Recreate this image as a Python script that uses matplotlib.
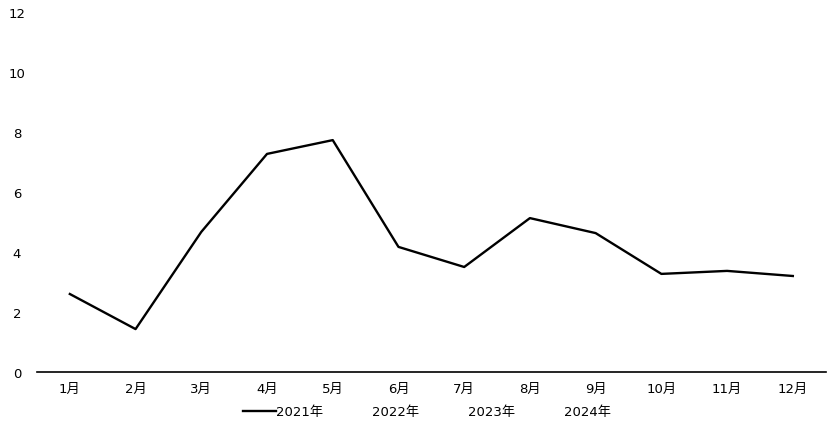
import matplotlib.pyplot as plt
from matplotlib.lines import Line2D

plt.rcParams['font.family'] = ['DejaVu Sans', 'Noto Sans CJK SC']

months = ['1月', '2月', '3月', '4月', '5月', '6月', '7月', '8月', '9月', '10月', '11月', '12月']
values_2021 = [2.6, 1.43, 4.67, 7.27, 7.73, 4.17, 3.5, 5.13, 4.63, 3.27, 3.37, 3.2]
years = ['2021年', '2022年', '2023年', '2024年']

fig = plt.figure(figsize=(8.29, 4.27), dpi=100)
ax = fig.add_axes([0.0446, 0.1265, 0.9514, 0.843])

x = range(len(months))
ax.plot(x, values_2021, color='black', lw=1.7)

ax.set_xlim(-0.5, len(months) - 0.5)
ax.set_ylim(0, 12)
ax.set_yticks(range(0, 13, 2))
ax.set_xticks(list(x))
ax.set_xticklabels(months)

for s in ['top', 'right', 'left']:
    ax.spines[s].set_visible(False)
ax.spines['bottom'].set_linewidth(1.2)
ax.tick_params(axis='both', length=0, labelsize=9.5)
ax.tick_params(axis='y', pad=14.4)
ax.tick_params(axis='x', pad=7)
for lab in ax.get_yticklabels():
    lab.set_horizontalalignment('center')

handles = [Line2D([], [], color='black', lw=1.7)]
handles += [Line2D([], [], color='none') for _ in years[1:]]
ax.legend(handles, years, loc='upper center', bbox_to_anchor=(0.495, -0.06),
          ncol=4, frameon=False, fontsize=9.5, handlelength=2.5,
          handletextpad=0.0, columnspacing=1.2)

fig.savefig('out.png', dpi=100)
